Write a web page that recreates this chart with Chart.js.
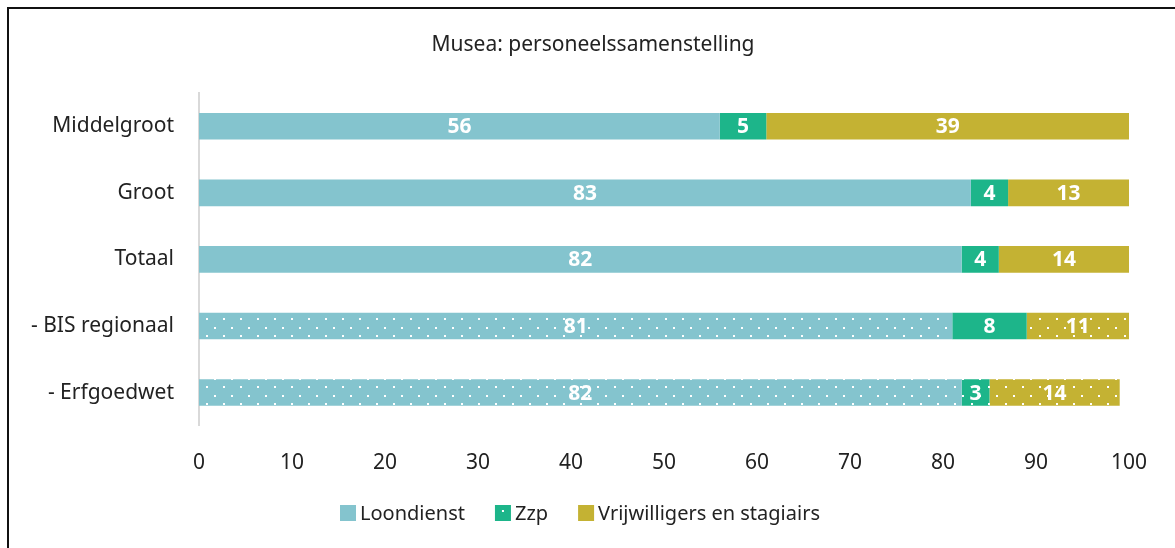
<!DOCTYPE html>
<html lang="nl">
<head>
<meta charset="utf-8">
<script src="https://cdn.jsdelivr.net/npm/chart.js@4.4.1/dist/chart.umd.min.js"></script>
<style>
  html, body { margin: 0; padding: 0; background: #fff; overflow: hidden; }
  #frame {
    position: absolute; left: 7px; top: 7px; width: 1300px; height: 700px;
    border: 2px solid #111; box-sizing: border-box;
  }
  #wrap { position: absolute; left: 0; top: 0; width: 1175px; height: 548px; }
</style>
</head>
<body>
<div id="frame"></div>
<div id="wrap"><canvas id="personeel" width="1175" height="548"></canvas></div>
<script>
// Musea: personeelssamenstelling (procenten)
const categories = ['Middelgroot', 'Groot', 'Totaal', '- BIS regionaal', '- Erfgoedwet'];
const loondienst = [56, 83, 82, 81, 82];
const zzp = [5, 4, 4, 8, 3];
const vrijwilligers = [39, 13, 14, 11, 14];
const xTicks = [0, 10, 20, 30, 40, 50, 60, 70, 80, 90, 100];
const seriesNames = ['Loondienst', 'Zzp', 'Vrijwilligers en stagiairs'];
const chartTitle = 'Musea: personeelssamenstelling';

const FONT = "'Noto Sans', sans-serif";
const TEXT = '#222222';
const colors = ['#84c4ce', '#1db58a', '#c4b233'];

// gestippelde vulling voor de subgroepen
function dotPattern(base) {
    const c = document.createElement('canvas');
    c.width = 17;
    c.height = 17;
    const g = c.getContext('2d');
    g.fillStyle = base;
    g.fillRect(0, 0, 17, 17);
    g.fillStyle = '#ffffff';
    g.fillRect(2, 12, 2, 2);
    g.fillRect(10, 4, 2, 2);
    return g.createPattern(c, 'repeat');
}

function fills(base, plain) {
    const pat = dotPattern(base);
    return categories.map((c, i) => (i >= 3 && !plain.includes(i)) ? pat : base);
}

// waarden midden in elk segment
const segmentLabels = {
    id: 'segmentLabels',
    afterDatasetsDraw(chart) {
        const ctx = chart.ctx;
        ctx.save();
        ctx.font = 'bold 21px ' + FONT;
        ctx.fillStyle = '#ffffff';
        ctx.textAlign = 'center';
        ctx.textBaseline = 'middle';
        chart.data.datasets.forEach((ds, di) => {
            const meta = chart.getDatasetMeta(di);
            meta.data.forEach((bar, i) => {
                const p = bar.getProps(['x', 'y', 'base'], true);
                ctx.fillText(String(ds.data[i]), (p.x + p.base) / 2, p.y + 1);
            });
        });
        ctx.restore();
    }
};

// titel bovenaan en legenda onderaan
const headerAndKey = {
    id: 'headerAndKey',
    afterDraw(chart) {
        const ctx = chart.ctx;
        ctx.save();
        ctx.fillStyle = TEXT;
        ctx.textBaseline = 'middle';
        ctx.textAlign = 'center';
        ctx.font = '21px ' + FONT;
        ctx.fillText(chartTitle, 593, 45);

        ctx.font = '20px ' + FONT;
        ctx.textAlign = 'left';
        const box = 16, gapText = 4, gapItem = 30;
        const widths = seriesNames.map(n => ctx.measureText(n).width);
        const total = widths.reduce((a, w) => a + box + gapText + w, 0) + gapItem * (seriesNames.length - 1);
        let x = 580 - total / 2;
        const y = 513;
        seriesNames.forEach((name, i) => {
            ctx.fillStyle = colors[i];
            ctx.fillRect(x, y - box / 2, box, box);
            if (i === 1) {
                ctx.fillStyle = '#ffffff';
                ctx.fillRect(x + 7, y - 3, 2, 2);
            }
            ctx.fillStyle = TEXT;
            ctx.fillText(name, x + box + gapText, y + 1);
            x += box + gapText + widths[i] + gapItem;
        });
        ctx.restore();
    }
};

const ctx = document.getElementById('personeel').getContext('2d');
new Chart(ctx, {
    type: 'bar',
    data: {
        labels: categories,
        datasets: [
            { label: seriesNames[0], data: loondienst, backgroundColor: fills(colors[0], []) },
            { label: seriesNames[1], data: zzp, backgroundColor: fills(colors[1], [3]) },
            { label: seriesNames[2], data: vrijwilligers, backgroundColor: fills(colors[2], []) }
        ]
    },
    options: {
        indexAxis: 'y',
        responsive: false,
        animation: false,
        devicePixelRatio: 1,
        datasets: {
            bar: { barPercentage: 0.8, categoryPercentage: 0.5, borderWidth: 0 }
        },
        layout: { padding: { left: 0, right: 46, top: 93, bottom: 47 } },
        plugins: {
            title: { display: false },
            legend: { display: false },
            tooltip: { enabled: false }
        },
        scales: {
            x: {
                stacked: true,
                min: 0,
                max: 100,
                afterBuildTicks(scale) {
                    scale.ticks = xTicks.map(v => ({ value: v }));
                },
                grid: { display: false, drawTicks: false },
                border: { display: false },
                ticks: { color: TEXT, padding: 25, font: { family: FONT, size: 21 } }
            },
            y: {
                stacked: true,
                grid: { display: false, drawTicks: false },
                border: { display: true, color: '#d9d9d9', width: 2 },
                ticks: { color: TEXT, padding: 25, font: { family: FONT, size: 21 } },
                afterFit(scale) { scale.width = 199; }
            }
        }
    },
    plugins: [segmentLabels, headerAndKey]
});
</script>
</body>
</html>
